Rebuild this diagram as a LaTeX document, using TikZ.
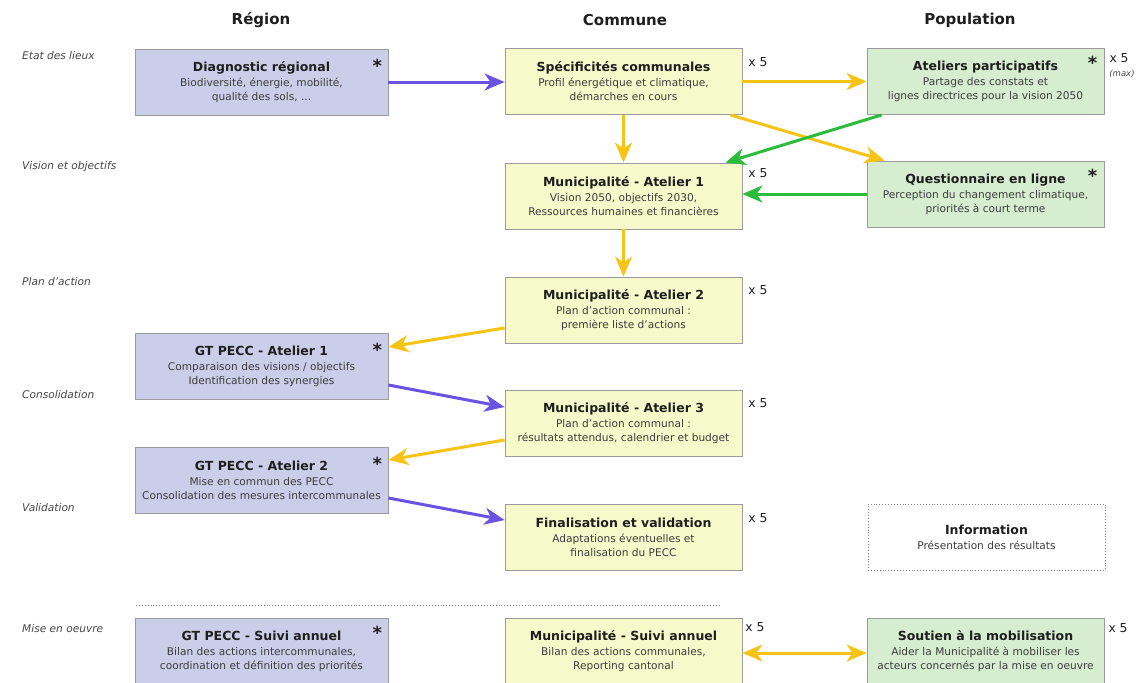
\documentclass[tikz,border=0pt]{standalone}
\usepackage{fontspec}
\setmainfont{DejaVu Sans}
\usetikzlibrary{arrows.meta,calc}
\definecolor{regfill}{RGB}{203,206,232}
\definecolor{comfill}{RGB}{246,250,202}
\definecolor{popfill}{RGB}{214,237,208}
\definecolor{boxline}{RGB}{155,155,155}
\definecolor{parrow}{RGB}{106,82,226}
\definecolor{yarrow}{RGB}{247,196,22}
\definecolor{garrow}{RGB}{44,188,60}
\definecolor{titlecol}{RGB}{30,30,30}
\definecolor{subcol}{RGB}{60,60,60}
\definecolor{labcol}{RGB}{70,70,70}
\newcommand{\ttlf}{\fontsize{12.5}{15}\bfseries\selectfont}
\newcommand{\subf}{\fontsize{10.6}{14}\selectfont}
\newcommand{\bx}[3]{{\ttlf\color{titlecol}#1}\\[1pt]#2\\#3}
\begin{document}
\begin{tikzpicture}[x=1pt,y=-1pt,
  box/.style={draw=boxline,line width=0.9pt,minimum height=66pt,align=center,inner sep=0pt,font=\subf,text=subcol},
  reg/.style={box,fill=regfill,minimum width=253pt},
  com/.style={box,fill=comfill,minimum width=237pt},
  pop/.style={box,fill=popfill,minimum width=237pt},
  hdr/.style={font=\fontsize{15}{18}\bfseries\selectfont,text=titlecol},
  lab/.style={font=\fontsize{10.6}{12}\itshape\selectfont,text=labcol,anchor=west,inner sep=0pt},
  xfive/.style={font=\fontsize{12.3}{14}\selectfont,text=titlecol,inner sep=0pt},
  star/.style={font=\fontsize{18}{18}\bfseries\selectfont,text=titlecol,inner sep=0pt},
  tip/.tip={Stealth[length=20pt,width=17pt,inset=6pt]},
  arr/.style={line width=3pt,-tip},
  parr/.style={arr,draw=parrow,fill=parrow},
  yarr/.style={arr,draw=yarrow,fill=yarrow},
  garr/.style={arr,draw=garrow,fill=garrow}]
\useasboundingbox (0,0) rectangle (1136,683);
\clip (0,0) rectangle (1136,683);
\fill[white] (0,0) rectangle (1136,683);

% headers
\node[hdr] (hreg) at (261,20) {Région};
\node[hdr] (hcom) at (625,20) {Commune};
\node[hdr] (hpop) at (970,20) {Population};

% phase labels
\node[lab] (l1) at (22,56) {Etat des lieux};
\node[lab] (l2) at (22,167) {Vision et objectifs};
\node[lab] (l3) at (22,282) {Plan d'action};
\node[lab] (l4) at (22,395) {Consolidation};
\node[lab] (l5) at (22,508) {Validation};
\node[lab] (l6) at (22,629) {Mise en oeuvre};

% boxes
\node[reg] (diag) at (261.5,82) {\bx{Diagnostic régional}{Biodiversité, énergie, mobilité,}{qualité des sols, ...}};
\node[com] (spec) at (623.5,81.5) {\bx{Spécificités communales}{Profil énergétique et climatique,}{démarches en cours}};
\node[pop] (atel) at (985.5,81.5) {\bx{Ateliers participatifs}{Partage des constats et}{lignes directrices pour la vision 2050}};
\node[com] (muni1) at (623.5,196) {\bx{Municipalité - Atelier 1}{Vision 2050, objectifs 2030,}{Ressources humaines et financières}};
\node[pop] (quest) at (985.5,194) {\bx{Questionnaire en ligne}{Perception du changement climatique,}{priorités à court terme}};
\node[com] (muni2) at (623.5,310) {\bx{Municipalité - Atelier 2}{Plan d'action communal :}{première liste d'actions}};
\node[reg] (gt1) at (261.5,366.5) {\bx{GT PECC - Atelier 1}{Comparaison des visions / objectifs}{Identification des synergies}};
\node[com] (muni3) at (623.5,423.5) {\bx{Municipalité - Atelier 3}{Plan d'action communal :}{résultats attendus, calendrier et budget}};
\node[reg] (gt2) at (261.5,480.5) {\bx{GT PECC - Atelier 2}{Mise en commun des PECC}{Consolidation des mesures intercommunales}};
\node[com] (fin) at (623.5,537.5) {\bx{Finalisation et validation}{Adaptations éventuelles et}{finalisation du PECC}};
\node[box,draw=gray,dotted,line width=0.8pt,fill=white,minimum width=237pt] (info) at (986.5,537) {{\ttlf\color{titlecol}Information}\\[1pt]Présentation des résultats};
\node[reg] (gts) at (261.5,651) {\bx{GT PECC - Suivi annuel}{Bilan des actions intercommunales,}{coordination et définition des priorités}};
\node[com] (munis) at (623.5,651) {\bx{Municipalité - Suivi annuel}{Bilan des actions communales,}{Reporting cantonal}};
\node[pop] (sout) at (985.5,651) {\bx{Soutien à la mobilisation}{Aider la Municipalité à mobiliser les}{acteurs concernés par la mise en oeuvre}};

% asterisks
\node[star] (s1) at ($(diag.north east)+(-11,17)$) {*};
\node[star] (s2) at ($(atel.north east)+(-12,15)$) {*};
\node[star] (s3) at ($(quest.north east)+(-12,15)$) {*};
\node[star] (s4) at ($(gt1.north east)+(-11,17)$) {*};
\node[star] (s5) at ($(gt2.north east)+(-11,17)$) {*};
\node[star] (s6) at ($(gts.north east)+(-11,15)$) {*};

% x 5 labels
\node[xfive] (x1) at (758,62) {x 5};
\node[xfive] (x2) at (758,173) {x 5};
\node[xfive] (x3) at (1119,58) {x 5};
\node[font=\fontsize{8.5}{9}\itshape\selectfont,text=labcol,inner sep=0pt] (xm) at (1122,74) {(max)};
\node[xfive] (x4) at (758,290) {x 5};
\node[xfive] (x5) at (758,403) {x 5};
\node[xfive] (x6) at (758,518) {x 5};
\node[xfive] (x7) at (755,627) {x 5};
\node[xfive] (x8) at (1118,628) {x 5};

% separator
\draw[gray,dotted,line width=0.9pt] (136,605) -- (720,605);

% connectors
\draw[parr] (diag.east) -- (spec.west |- diag.east);
\draw[yarr] (spec.east) -- (atel.west);
\draw[yarr] ($(spec.south east)+(-12,0)$) -- ($(quest.north west)+(18,0)$);
\draw[yarr] (spec.south) -- (muni1.north);
\draw[garr] ($(atel.south west)+(15,0)$) -- ($(muni1.north east)+(-17,0)$);
\draw[garr] (quest.west) -- (quest.west -| muni1.east);
\draw[yarr] (muni1.south) -- (muni2.north);
\draw[yarr] ($(muni2.west)+(0,18)$) -- ($(gt1.east)+(0,-19.5)$);
\draw[parr] ($(gt1.east)+(0,18.5)$) -- ($(muni3.west)+(0,-16.5)$);
\draw[yarr] ($(muni3.west)+(0,16.5)$) -- ($(gt2.east)+(0,-20.5)$);
\draw[parr] ($(gt2.east)+(0,17.5)$) -- ($(fin.west)+(0,-17.5)$);
\draw[yarr,tip-tip] ($(munis.east)+(0,2)$) -- ($(sout.west)+(0,2)$);
\end{tikzpicture}
\end{document}
